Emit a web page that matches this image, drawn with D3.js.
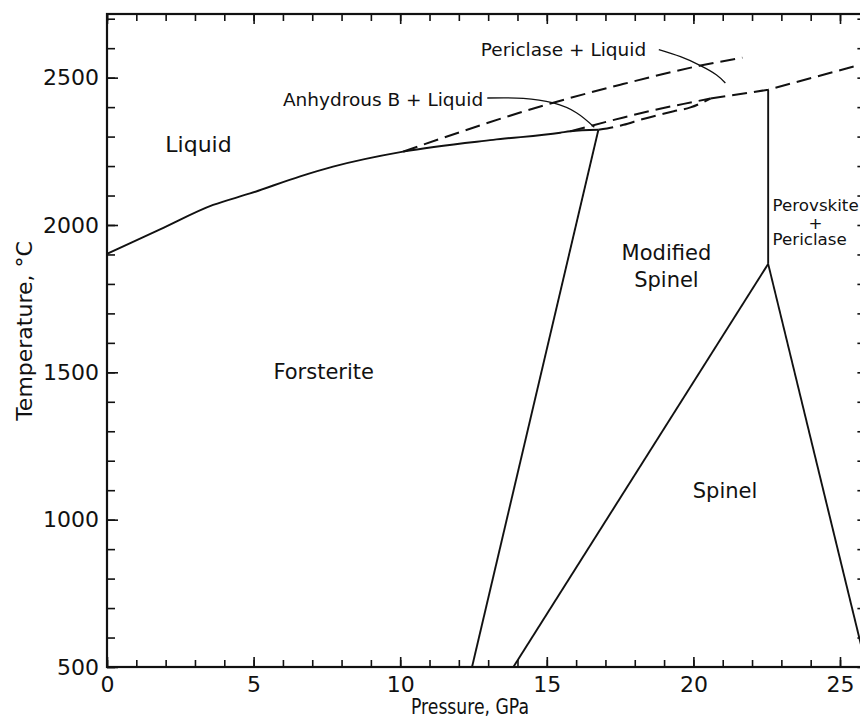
<!DOCTYPE html>
<html>
<head>
<meta charset="utf-8">
<script src="https://cdn.jsdelivr.net/npm/d3@7"></script>
<style>
  html, body { margin: 0; padding: 0; background: #fff; }
  svg { display: block; font-family: "DejaVu Sans", sans-serif; }
</style>
</head>
<body>
<svg id="chart" width="860" height="720"></svg>
<script>
// Phase diagram of Mg2SiO4: pressure (GPa) against temperature (°C)

// Tick values and labels
const xMajorTicks = [0, 5, 10, 15, 20, 25];
const xTickLabels = ["0", "5", "10", "15", "20", "25"];
const yMajorTicks = [500, 1000, 1500, 2000, 2500];
const yTickLabels = ["500", "1000", "1500", "2000", "2500"];
const xMinorTicks = d3.range(0, 26, 1);
const yMinorTicks = d3.range(500, 2701, 100);

// Phase boundaries, each point is [pressure GPa, temperature °C]
const liquidus = [[0, 1902], [1.81, 1985], [3.62, 2068], [4.88, 2107], [6.59, 2165], [7.71, 2198],
                  [10.10, 2249], [13.17, 2289], [15.46, 2313], [15.80, 2318], [16.76, 2323]];
const forsteriteBoundary = [[16.76, 2323], [12.45, 500]];
const spinelBoundary = [[22.55, 1868], [13.86, 500]];
const perovskiteBoundary = [[22.55, 1868], [25.90, 500]];
const modifiedSpinelBoundary = [[22.55, 1868], [22.55, 2459]];
const periclaseLiquidus = [[10.10, 2249], [15.22, 2415], [17.51, 2476], [20.24, 2541], [21.67, 2568]];
const anhydrousBUpper = [[15.80, 2318], [17.62, 2365], [18.65, 2390], [19.67, 2411], [20.58, 2429]];
const anhydrousBLower = [[16.76, 2323], [17.62, 2340], [18.19, 2357], [19.33, 2386], [19.90, 2399], [20.58, 2429]];
const highPressureLiquidus = [[20.58, 2429], [22.55, 2459], [25.70, 2544], [25.90, 2549]];

// Leader lines from the field names to their fields
const periclaseLeader = [[18.82, 2595], [19.56, 2571], [20.24, 2541], [20.78, 2510], [21.09, 2482]];
const anhydrousLeader = [[12.97, 2431], [14.20, 2430], [15.22, 2414], [16.01, 2381], [16.62, 2332]];

// Field names
const fieldLabels = [
  { text: "Liquid", p: 3.12, t: 2246, size: 22, anchor: "middle" },
  { text: "Forsterite", p: 7.39, t: 1478, size: 21, anchor: "middle" },
  { text: "Modified", p: 19.08, t: 1880, size: 21, anchor: "middle" },
  { text: "Spinel", p: 19.08, t: 1789, size: 21, anchor: "middle" },
  { text: "Spinel", p: 21.08, t: 1073, size: 21, anchor: "middle" },
  { text: "Perovskite", p: 22.70, t: 2049, size: 16.7, anchor: "start" },
  { text: "+", p: 24.16, t: 1985, size: 16.7, anchor: "middle" },
  { text: "Periclase", p: 22.70, t: 1933, size: 16.7, anchor: "start" },
  { text: "Periclase + Liquid", p: 12.75, t: 2575, size: 18.5, anchor: "start" },
  { text: "Anhydrous B + Liquid", p: 6.0, t: 2405, size: 18.5, anchor: "start" }
];

const svg = d3.select("#chart");
const ink = "#111";

const x = d3.scaleLinear().domain([0, 25.9]).range([107, 107 + 25.9 * 29.32]);
const y = d3.scaleLinear().domain([500, 2716]).range([667, 14]);

const [x0, x1] = x.range();
const [yb, yt] = y.range();

svg.append("defs").append("clipPath").attr("id", "plot")
  .append("rect").attr("x", x0).attr("y", yt).attr("width", x1 - x0).attr("height", yb - yt);

// Tick marks, all pointing into the plot
function ticks(axis, transform, values, size, labels, pad) {
  const a = axis.tickValues(values).tickSize(size).tickSizeOuter(0)
    .tickPadding(pad || 8)
    .tickFormat(labels ? (d, i) => labels[i] : "");
  const g = svg.append("g").attr("transform", transform).call(a);
  g.select(".domain").remove();
  g.selectAll("line").attr("stroke", ink).attr("stroke-width", 1.6);
  g.selectAll("text").attr("fill", ink).attr("font-size", 22)
    .attr("font-family", "DejaVu Sans, sans-serif");
  return g;
}

ticks(d3.axisBottom(x), `translate(0,${yb})`, xMinorTicks, -7);
ticks(d3.axisBottom(x), `translate(0,${yb})`, xMajorTicks, -10, xTickLabels, 9);
ticks(d3.axisTop(x), `translate(0,${yt})`, xMinorTicks, -7);
ticks(d3.axisTop(x), `translate(0,${yt})`, xMajorTicks, -10);
ticks(d3.axisLeft(y), `translate(${x0},0)`, yMinorTicks, -8);
ticks(d3.axisLeft(y), `translate(${x0},0)`, yMajorTicks, -11, yTickLabels, 8);
ticks(d3.axisRight(y), `translate(${x1},0)`, yMinorTicks, -9);

// Frame
svg.append("rect")
  .attr("x", x0).attr("y", yt).attr("width", x1 - x0).attr("height", yb - yt)
  .attr("fill", "none").attr("stroke", ink).attr("stroke-width", 2.2);

// Boundaries
const line = d3.line().x(d => x(d[0])).y(d => y(d[1]));
const mono = d3.line().x(d => x(d[0])).y(d => y(d[1])).curve(d3.curveMonotoneX);
const smooth = d3.line().x(d => x(d[0])).y(d => y(d[1])).curve(d3.curveNatural);
const plot = svg.append("g").attr("clip-path", "url(#plot)")
  .attr("fill", "none").attr("stroke", ink).attr("stroke-linejoin", "round");

plot.append("path").attr("d", mono(liquidus)).attr("stroke-width", 1.9);
[forsteriteBoundary, spinelBoundary, perovskiteBoundary, modifiedSpinelBoundary].forEach(b =>
  plot.append("path").attr("d", line(b)).attr("stroke-width", 1.9));

[periclaseLiquidus, anhydrousBUpper, anhydrousBLower].forEach(b =>
  plot.append("path").attr("d", mono(b)).attr("stroke-width", 2)
    .attr("stroke-dasharray", "15,7"));
plot.append("path").attr("d", line(highPressureLiquidus)).attr("stroke-width", 2)
  .attr("stroke-dasharray", "15,7");

[periclaseLeader, anhydrousLeader].forEach(b =>
  plot.append("path").attr("d", smooth(b)).attr("stroke-width", 1.3));

// Field names
svg.append("g").selectAll("text").data(fieldLabels).join("text")
  .attr("x", d => x(d.p)).attr("y", d => y(d.t))
  .attr("text-anchor", d => d.anchor)
  .attr("font-size", d => d.size)
  .attr("fill", ink)
  .text(d => d.text);

// Axis titles
svg.append("text")
  .attr("transform", "translate(32,331) rotate(-90)")
  .attr("text-anchor", "middle").attr("font-size", 22).attr("fill", ink)
  .text("Temperature, °C");

svg.append("text")
  .attr("x", 470).attr("y", 714)
  .attr("text-anchor", "middle").attr("font-size", 22).attr("fill", ink)
  .attr("textLength", 118).attr("lengthAdjust", "spacingAndGlyphs")
  .text("Pressure, GPa");
</script>
</body>
</html>
